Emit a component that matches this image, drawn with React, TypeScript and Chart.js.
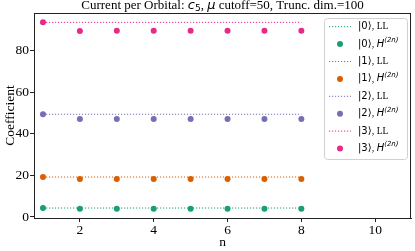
import React, { useEffect, useRef } from "react";
import { Chart, registerables } from "chart.js";
Chart.register(...registerables);

const nValues = [1, 2, 3, 4, 5, 6, 7, 8];
const llLevels = [4.3, 19.2, 49.4, 93.6];
const h0 = [4.3, 4.0, 4.0, 4.0, 4.0, 4.0, 4.0, 4.0];
const h1 = [19.2, 18.3, 18.3, 18.3, 18.3, 18.3, 18.3, 18.3];
const h2 = [49.4, 47.1, 47.1, 47.1, 47.1, 47.1, 47.1, 47.1];
const h3 = [93.6, 89.4, 89.6, 89.6, 89.6, 89.6, 89.6, 89.6];
const hSeries = [h0, h1, h2, h3];
const stateLabels = ["0", "1", "2", "3"];
const colors = ["#1b9e77", "#d95f02", "#7570b3", "#e7298a"];
const xTicks = [2, 4, 6, 8, 10];
const yTicks = [0, 20, 40, 60, 80];

const SERIF = "'Liberation Serif', 'Times New Roman', serif";
const SANS = "'DejaVu Sans', sans-serif";

function drawMathLabel(ctx: CanvasRenderingContext2D, x: number, y: number, state: string, isLL: boolean) {
  ctx.textBaseline = "middle";
  ctx.textAlign = "left";
  ctx.fillStyle = "#000";
  let cx = x;
  const seg = (t: string, font: string, dy = 0) => {
    ctx.font = font;
    ctx.fillText(t, cx, y + dy);
    cx += ctx.measureText(t).width;
  };
  seg("|" + state + "⟩", `10px ${SANS}`);
  seg(", ", `10px ${SERIF}`);
  if (isLL) {
    seg("LL", `9.5px ${SERIF}`);
  } else {
    seg("H", `italic 10px ${SANS}`);
    seg("(2n)", `italic 7px ${SANS}`, -4);
  }
}

const framePlugin = {
  id: "frameAndLegend",
  afterDraw(chart: any) {
    const ctx = chart.ctx as CanvasRenderingContext2D;
    const a = chart.chartArea;
    ctx.save();
    ctx.strokeStyle = "#222";
    ctx.lineWidth = 1;
    ctx.strokeRect(Math.round(a.left) + 0.5, Math.round(a.top) + 0.5, Math.round(a.right - a.left) - 1, Math.round(a.bottom - a.top));
    // title
    ctx.fillStyle = "#000";
    ctx.textBaseline = "middle";
    const cxTitle = (a.left + a.right) / 2;
    const parts: [string, string, number][] = [
      ["Current per Orbital: ", `13px ${SERIF}`, 0],
      ["c", `italic 13px ${SANS}`, 0],
      ["5", `9px ${SANS}`, 3],
      [", ", `13px ${SERIF}`, 0],
      ["μ", `italic 13px ${SANS}`, 0],
      [" cutoff=50, Trunc. dim.=100", `13px ${SERIF}`, 0],
    ];
    let total = 0;
    for (const p of parts) { ctx.font = p[1]; total += ctx.measureText(p[0]).width; }
    let tx = cxTitle - total / 2;
    ctx.textAlign = "left";
    for (const p of parts) { ctx.font = p[1]; ctx.fillText(p[0], tx, 6 + p[2]); tx += ctx.measureText(p[0]).width; }
    // legend
    const lx = 324.5, ly = 18.5, lw = 83, lh = 141;
    ctx.beginPath();
    (ctx as any).roundRect(lx, ly, lw, lh, 3);
    ctx.fillStyle = "rgba(255,255,255,0.8)";
    ctx.fill();
    ctx.strokeStyle = "#d0d0d0";
    ctx.lineWidth = 1;
    ctx.stroke();
    const rowH = 17.4;
    for (let i = 0; i < 4; i++) {
      const yLL = 26.7 + rowH * (2 * i);
      const yH = 26.7 + rowH * (2 * i + 1);
      ctx.strokeStyle = colors[i];
      ctx.lineWidth = 1;
      ctx.setLineDash([1.2, 1.8]);
      ctx.beginPath();
      ctx.moveTo(329, yLL);
      ctx.lineTo(351, yLL);
      ctx.stroke();
      ctx.setLineDash([]);
      ctx.fillStyle = colors[i];
      ctx.beginPath();
      ctx.arc(340, yH, 3, 0, Math.PI * 2);
      ctx.fill();
      drawMathLabel(ctx, 358, yLL, stateLabels[i], true);
      drawMathLabel(ctx, 358, yH, stateLabels[i], false);
    }
    ctx.restore();
  },
};

export default function App() {
  const ref = useRef<HTMLCanvasElement>(null);
  useEffect(() => {
    if (!ref.current) return;
    const datasets: any[] = [];
    for (let i = 0; i < 4; i++) {
      datasets.push({
        type: "line",
        data: nValues.map((n) => ({ x: n, y: llLevels[i] })),
        borderColor: colors[i],
        borderWidth: 1,
        borderDash: [1.2, 1.8],
        pointRadius: 0,
        fill: false,
      });
      datasets.push({
        type: "scatter",
        data: nValues.map((n, j) => ({ x: n, y: hSeries[i][j] })),
        backgroundColor: colors[i],
        borderColor: colors[i],
        pointRadius: 3,
        borderWidth: 0,
      });
    }
    const chart = new Chart(ref.current, {
      type: "scatter",
      data: { datasets },
      plugins: [framePlugin],
      options: {
        animation: false,
        responsive: false,
        devicePixelRatio: 1,
        layout: { padding: { top: 13, right: 2, left: 0, bottom: 0 } },
        plugins: { legend: { display: false }, tooltip: { enabled: false }, title: { display: false } },
        scales: {
          x: {
            type: "linear",
            min: 0.757,
            max: 10.97,
            afterBuildTicks: (s: any) => { s.ticks = xTicks.map((v) => ({ value: v })); },
            afterFit: (s: any) => { s.height = 33; },
            grid: { display: true, drawOnChartArea: false, drawTicks: true, tickLength: 4, color: "#222" },
            border: { display: true, color: "#222" },
            ticks: { color: "#000", padding: 0, font: { family: SERIF, size: 13.5 }, maxRotation: 0 },
            title: { display: true, text: "n", color: "#000", padding: 0, font: { family: SERIF, size: 13.5 } },
          },
          y: {
            type: "linear",
            min: -0.5,
            max: 98.1,
            afterBuildTicks: (s: any) => { s.ticks = yTicks.map((v) => ({ value: v })); },
            afterFit: (s: any) => { s.width = 34; },
            grid: { display: true, drawOnChartArea: false, drawTicks: true, tickLength: 4, color: "#222" },
            border: { display: true, color: "#222" },
            ticks: { color: "#000", padding: 1, font: { family: SERIF, size: 13.5 } },
            title: { display: true, text: "Coefficient", color: "#000", padding: 2, font: { family: SERIF, size: 13.5 } },
          },
        },
      },
    } as any);
    return () => chart.destroy();
  }, []);
  return (
    <div style={{ position: "fixed", left: 0, top: 0, width: 415, height: 251, background: "#fff" }}>
      <canvas ref={ref} width={415} height={251} style={{ width: 415, height: 251 }} />
    </div>
  );
}
